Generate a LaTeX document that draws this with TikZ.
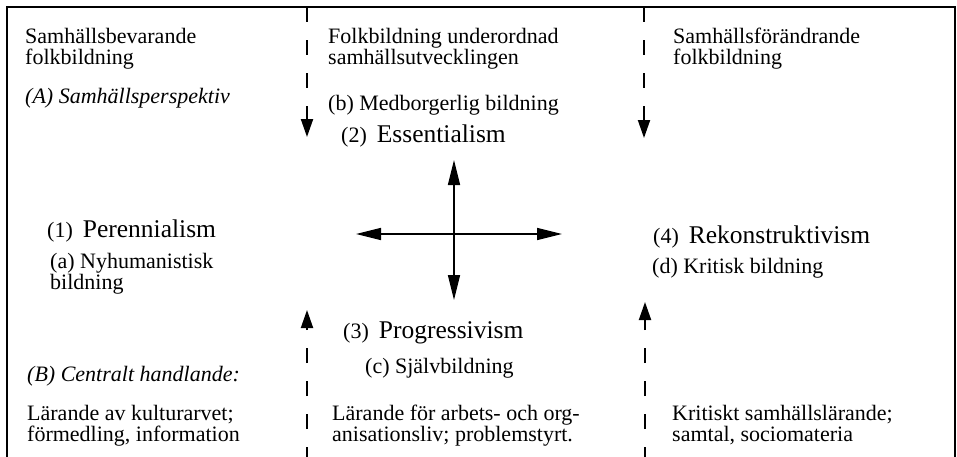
\documentclass[tikz,border=0pt]{standalone}
\usepackage{fontspec}
\setmainfont{Liberation Serif}
\usetikzlibrary{arrows.meta}

\newcommand{\bigname}[1]{{\fontsize{25.5}{27}\selectfont #1}}

\begin{document}
\begin{tikzpicture}[
  x=1pt, y=-1pt,
  font=\fontsize{22}{21}\selectfont,
  txt/.style={anchor=base west, align=left, inner sep=0pt},
  persp/.style={txt, font=\fontsize{22}{21}\selectfont\itshape},
  frame/.style={line width=2pt},
  flow/.style={-{Triangle[length=18pt,width=12pt]}, line width=2pt, dash pattern=on 15pt off 18pt},
  axis/.style={{Triangle[length=25pt,width=12pt]}-{Triangle[length=25pt,width=12pt]}, line width=1.5pt}
]
  \useasboundingbox (0,0) rectangle (957,456);
  \draw[frame] (7,470) -- (7,7) -- (955,7) -- (955,470);

  % column heads (multi-line nodes sit on their last line)
  \node[txt] (bevarande) at (25,64) {Samhällsbevarande\\folkbildning};
  \node[txt] (underordnad) at (328,64) {Folkbildning underordnad\\samhällsutvecklingen};
  \node[txt] (forandrande) at (673,64) {Samhällsförändrande\\folkbildning};
  \node[persp] (perspA) at (25,103) {(A) Samhällsperspektiv};

  % the four positions
  \node[txt] (medborg) at (328,110) {(b) Medborgerlig bildning};
  \node[txt] (essent) at (341,142) {(2)\hskip10pt\bigname{Essentialism}};
  \node[txt] (perenn) at (47,237) {(1)\hskip10pt\bigname{Perennialism}};
  \node[txt] (nyhum) at (50,289) {(a) Nyhumanistisk\\bildning};
  \node[txt] (rekon) at (653,243) {(4)\hskip10pt\bigname{Rekonstruktivism}};
  \node[txt] (kritisk) at (652,273) {(d) Kritisk bildning};
  \node[txt] (progr) at (343,338) {(3)\hskip10pt\bigname{Progressivism}};
  \node[txt] (sjalv) at (365,373) {(c) Självbildning};

  % central action
  \node[persp] (handlandeB) at (27,381) {(B) Centralt handlande:};
  \node[txt] (larandeA) at (27,441) {Lärande av kulturarvet;\\förmedling, information};
  \node[txt] (larandeB) at (332,441) {Lärande för arbets- och org-\\anisationsliv; problemstyrt.};
  \node[txt] (larandeC) at (672,441) {Kritiskt samhällslärande;\\samtal, sociomateria};

  % cross
  \coordinate (crossN) at (454,160);
  \coordinate (crossS) at (454,300);
  \coordinate (crossW) at (356,234);
  \coordinate (crossE) at (562,234);
  \draw[axis] (crossN) -- (crossS);
  \draw[axis] (crossW) -- (crossE);

  % dashed flows
  \coordinate (topL) at (307,7);
  \coordinate (tipTL) at (307,137);
  \coordinate (topR) at (644,7);
  \coordinate (tipTR) at (644,138);
  \coordinate (botL) at (307,462);
  \coordinate (tipBL) at (307,310);
  \coordinate (botR) at (645,462);
  \coordinate (tipBR) at (645,302);
  \draw[flow] (topL) -- (tipTL);
  \draw[flow] (topR) -- (tipTR);
  \draw[flow] (botL) -- (tipBL);
  \draw[flow] (botR) -- (tipBR);
\end{tikzpicture}
\end{document}
